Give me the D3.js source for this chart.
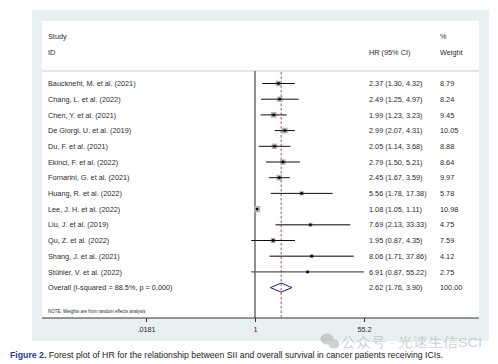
<!DOCTYPE html>
<html><head><meta charset="utf-8">
<script src="https://cdn.jsdelivr.net/npm/d3@7/dist/d3.min.js"></script>
<style>
html,body{margin:0;padding:0;background:#fff;}
svg{display:block;}
text{font-family:"Liberation Sans",Arial,sans-serif;}
</style></head>
<body>
<svg id="c" width="498" height="364"></svg>
<script>
const studies = ["Bauckneht, M. et al. (2021)","Chang, L. et al. (2022)","Chen, Y. et al. (2021)","De Giorgi, U. et al. (2019)","Du, F. et al. (2021)","Ekinci, F. et al. (2022)","Fornarini, G. et al. (2021)","Huang, R. et al. (2022)","Lee, J. H. et al. (2022)","Liu, J. et al. (2019)","Qu, Z. et al. (2022)","Shang, J. et al. (2021)","Stühler, V. et al. (2022)"];
const hr    = [2.37, 2.49, 1.99, 2.99, 2.05, 2.79, 2.45, 5.56, 1.08, 7.69, 1.95, 8.06, 6.91];
const lower = [1.30, 1.25, 1.23, 2.07, 1.14, 1.50, 1.67, 1.78, 1.05, 2.13, 0.87, 1.71, 0.87];
const upper = [4.32, 4.97, 3.23, 4.31, 3.68, 5.21, 3.59, 17.38, 1.11, 33.33, 4.35, 37.86, 55.22];
const weight = ["8.79","8.24","9.45","10.05","8.88","8.64","9.97","5.78","10.98","4.75","7.59","4.12","2.75"];
const overall = {label:"Overall  (I-squared = 88.5%, p = 0.000)", hr:2.62, lower:1.76, upper:3.90, weight:"100.00"};
const tickValues = [0.0181, 1, 55.2];
const tickLabels = [".0181", "1", "55.2"];

const svg = d3.select("#c");
const fmt = d3.format(".2f");
const FS = 7.3;

// panels
svg.append("rect").attr("x",32).attr("y",10).attr("width",457).attr("height",331).attr("fill","#e9f0f1");
svg.append("rect").attr("x",42).attr("y",21).attr("width",437).attr("height",297).attr("fill","#ffffff");
svg.append("line").attr("x1",42).attr("x2",479).attr("y1",71).attr("y2",71).attr("stroke","#e2e6e7").attr("stroke-width",2);

const x = d3.scaleLog().domain([0.0181, 55.2]).range([146, 364]);
const rows = studies.concat(["Overall"]);
const y = d3.scalePoint().domain(rows).range([83.5, 287.6]);

const txt = (xx, yy, s, opt={}) => svg.append("text").attr("x",xx).attr("y",yy)
  .attr("font-size",opt.size||FS).attr("fill",opt.fill||"#2a2a2a").text(s);

// headers
txt(48, 38.5, "Study");
txt(48, 55, "ID");
txt(369, 55, "HR (95% CI)");
txt(440, 38.5, "%");
txt(440, 55, "Weight");

// reference lines
svg.append("line").attr("x1",x(1)).attr("x2",x(1)).attr("y1",71).attr("y2",318).attr("stroke","#222").attr("stroke-width",1);
svg.append("line").attr("x1",x(overall.hr)).attr("x2",x(overall.hr)).attr("y1",72).attr("y2",318)
  .attr("stroke","#b03030").attr("stroke-width",0.9).attr("stroke-dasharray","2.5,2");

// studies
const g = svg.append("g");
studies.forEach((s,i)=>{
  const cy = y(s);
  const side = Math.sqrt(+weight[i]) * 1.85;
  g.append("rect").attr("x",x(hr[i])-side/2).attr("y",cy-side/2).attr("width",side).attr("height",side).attr("fill","#b4b4b4");
  const thick = upper[i] > 30;
  g.append("line").attr("x1",x(lower[i])).attr("x2",x(upper[i])).attr("y1",cy).attr("y2",cy)
    .attr("stroke", thick ? "#555" : "#111").attr("stroke-width", thick ? 1.4 : 1);
  g.append("circle").attr("cx",x(hr[i])).attr("cy",cy).attr("r",1.4).attr("fill","#000");
  txt(48, cy+2.6, s);
  txt(369, cy+2.6, `${fmt(hr[i])} (${fmt(lower[i])}, ${fmt(upper[i])})`);
  txt(440, cy+2.6, weight[i]);
});

// overall diamond
const oy = y("Overall");
svg.append("path").attr("d", `M${x(overall.lower)},${oy} L${x(overall.hr)},${oy-4.5} L${x(overall.upper)},${oy} L${x(overall.hr)},${oy+4.5} Z`)
  .attr("fill","none").attr("stroke","#1c1c70").attr("stroke-width",1);
txt(48, oy+2.6, overall.label);
txt(369, oy+2.6, `${fmt(overall.hr)} (${fmt(overall.lower)}, ${fmt(overall.upper)})`);
txt(440, oy+2.6, overall.weight);

txt(48, 313, "NOTE: Weights are from random effects analysis", {size:4.5});

// axis
svg.append("line").attr("x1",42).attr("x2",479).attr("y1",318).attr("y2",318).attr("stroke","#333").attr("stroke-width",1);
const axis = d3.axisBottom(x).tickValues(tickValues).tickFormat((d,i)=>tickLabels[i]).tickSize(4).tickSizeOuter(0);
const ag = svg.append("g").attr("transform","translate(0,318)").call(axis);
ag.select(".domain").remove();
ag.selectAll(".tick line").attr("stroke","#333");
ag.selectAll(".tick text").attr("font-size",FS).attr("fill","#2a2a2a").attr("dy","0.95em")
  .attr("font-family","'Liberation Sans',Arial,sans-serif");

// watermark
const wm = svg.append("g").attr("opacity",0.45);
wm.append("ellipse").attr("cx",327).attr("cy",339).attr("rx",6.5).attr("ry",5.5).attr("fill","#9a9a9a");
wm.append("ellipse").attr("cx",334).attr("cy",344).attr("rx",5.5).attr("ry",4.5).attr("fill","#9a9a9a");
wm.append("text").attr("x",341).attr("y",346.5).attr("font-size",13.5).attr("fill","#9a9a9a")
  .attr("font-family","'Noto Sans CJK SC',sans-serif").attr("textLength",141).attr("lengthAdjust","spacingAndGlyphs")
  .text("公众号 · 光速生信SCI");

// caption
const cap = svg.append("text").attr("x",10).attr("y",358).attr("font-size",8.8)
  .attr("font-family","'Open Sans',sans-serif").attr("textLength",433).attr("lengthAdjust","spacingAndGlyphs");
cap.append("tspan").attr("font-weight","bold").attr("fill","#25408f").text("Figure 2.");
cap.append("tspan").attr("fill","#222").text(" Forest plot of HR for the relationship between SII and overall survival in cancer patients receiving ICIs.");
</script>
</body></html>
